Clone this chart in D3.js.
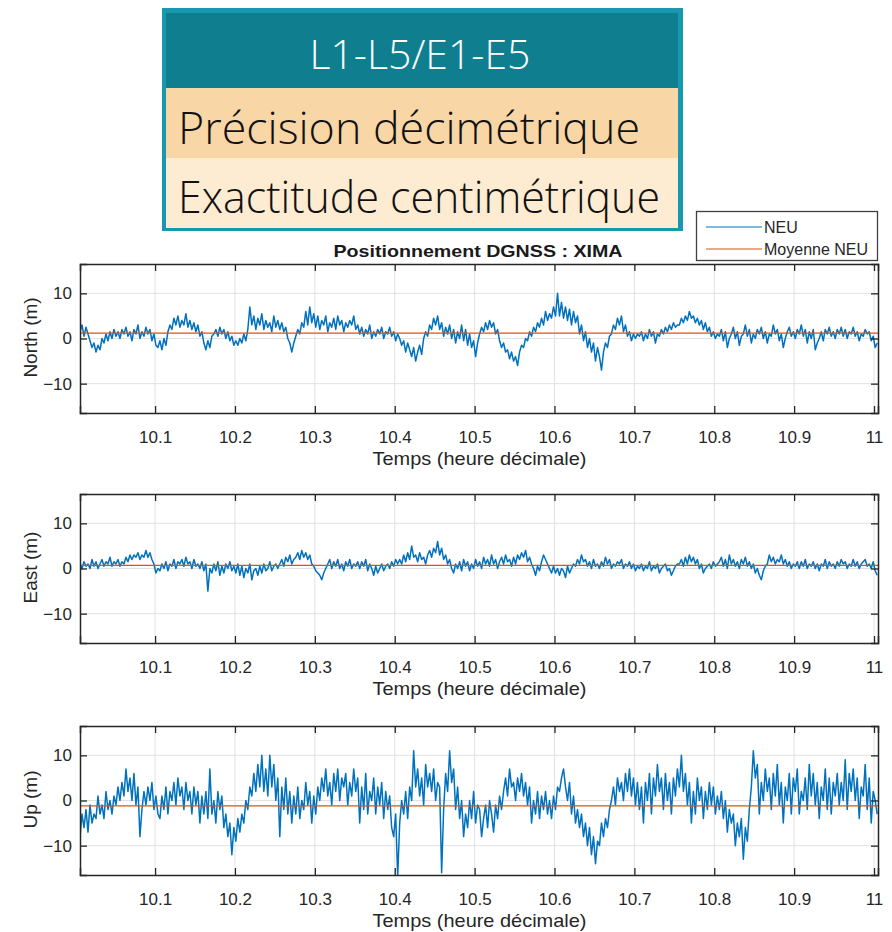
<!DOCTYPE html>
<html><head><meta charset="utf-8">
<script src="https://cdn.jsdelivr.net/npm/d3@7"></script>
<style>
body{margin:0;background:#fff;}
svg{display:block;}
</style></head>
<body>
<svg id="c" width="892" height="932"></svg>
<script>
// ---- data ----
const headerLines = ["L1-L5/E1-E5", "Précision décimétrique", "Exactitude centimétrique"];
const chartTitle = "Positionnement DGNSS : XIMA";
const legendLabels = ["NEU", "Moyenne NEU"];
const xTicks = [10.1, 10.2, 10.3, 10.4, 10.5, 10.6, 10.7, 10.8, 10.9, 11];
const yTicks = [-10, 0, 10];
const timeRange = [10.006, 11.004];
const panelNames = ["North (m)", "East (m)", "Up (m)"];
const xLabel = "Temps (heure décimale)";

const northValues = [
1.5,3,0.5,2.5,1,-0.5,-2,-1,-3,-1.5,-2.5,0,-1,1,-0.5,1.5,0,2,0.5,1.5,
0,2,1,2.5,0.5,1.5,-0.5,2,1,3,0,1.5,0.5,2.5,1,2,-0.5,1,-1.5,-2,
-0.5,-2.5,0,-1.5,1.5,3,2,4.5,3,5,2.5,4,3,5.5,2.5,4,2,3.5,1.5,3,
0.5,1.5,-1,-2.5,-0.5,-2,0.5,1,2,0.5,2.5,1,2,0,1.5,-0.5,0.5,-1.5,-0.5,-1.5,
0,-1,1,-0.5,2,7,3,5,2,4.5,3,5.5,2,4,2.5,3.5,1.5,5,2.5,4,
2,3.5,1.5,2.5,0,-1,-3,-1,0.5,2,1,3.5,2.5,6,3,7,3.5,5.5,2.5,5,
2,4,3,5,1.5,3.5,2.5,4.5,2,5,3,4,1.5,3.5,2.5,4,3,5,2,3,
1,2.5,0.5,2,1,3,0,1.5,0.5,2,1,2.5,0,1.5,1,2.5,0.5,1.5,-0.5,1,
0,-1.5,-0.5,-3,-1,-2.5,-4,-2,-5,-3,-1.5,-3.5,0,1.5,0.5,3,2,4.5,3,5,
2,3.5,0.5,2.5,1,3,0,2,-1,1.5,0,3,-0.5,2,-1.5,1,-2,-0.5,-4,-1,
1,2.5,1.5,3.5,2,4,2.5,3.5,1,2,-0.5,-2,-1,-3,-2.5,-4.5,-3,-5,-4,-6,
-3,-1.5,-2,0,-0.5,1.5,0.5,2.5,1.5,3.5,2.5,4.5,3,6,4,5.5,4.5,7,5,10,
5,8,4.5,7,4,6.5,3,6,3.5,5,1,3,-0.5,1.5,-2,0,-3,-1,-5,-2,
-4,-7,-3,-1,-2,0.5,1,3,2,4.5,3,5,1.5,3,0.5,1.5,-0.5,1,0,1,
0.5,1.5,-0.5,1,0,2,0.5,1.5,-1,1,0.5,2,1,2.5,1.5,3,2,3.5,2.5,3,
3,4.5,3.5,5,4,6,4.5,5,3.5,4.5,3,4,2,3.5,1.5,2.5,0.5,1.5,0,1,
0.5,2,-0.5,1.5,-2,0,1,2.5,0,1.5,-1.5,0.5,1,3,0.5,2,-1,1,0,2,
1,2.5,0,1.5,-1,1,0.5,3,1,2,-0.5,1,-2,0,1.5,2.5,0.5,1.5,0,2,
1,3,0.5,2,-1,1.5,0,2,-2.5,-1,0,1.5,-0.5,2,1,2.5,0.5,1.5,0,2,
1,2.5,0.5,2,0,1.5,1,2.5,0.5,1.5,-0.5,1,0.5,2,1,1.5,-0.5,0.5,-2,-1];

const eastValues = [
1,0,1.5,0.5,1,0,2,0.5,1.5,0,1,2,0.5,1.5,1,2.5,0.5,1.5,1,2,
0.5,1.5,1,2.5,1.5,3,2,3,2.5,3.5,2,3,2.5,4,2.5,3.5,2,1,-1,0,
-0.5,1,0,1.5,-0.5,1,0.5,2,0,1.5,1,2,0.5,2.5,1,1.5,0,2,0.5,1,
0,1.5,-0.5,1,-5,0,-1,1,-0.5,1.5,-1.5,0.5,-1,1,0,1.5,-0.5,0.5,-1,1,
-1.5,0.5,-2,0,-1,1,-2.5,-0.5,0,-1.5,0.5,-1,1,-0.5,0,1.5,-0.5,0.5,1,0,
1,2,0.5,2.5,1.5,3,1,2,2.5,3.5,2,4,2.5,3.5,2,3,1,0.5,-0.5,-1,
-1.5,-2.5,-1,0,1,2,0,1.5,0.5,2,0,1,-0.5,1.5,0.5,2,0,1,0.5,1.5,
0,1.5,0.5,2,-0.5,1,0,-1.5,0.5,-1,0,1,-0.5,0.5,1,0,1.5,0.5,2,1,
2,1,3,1.5,3.5,2,5,2.5,3,1.5,3.5,2,2.5,1,3,4,2.5,4.5,3.5,6,
3,4.5,2,3,1,2,0,-1,1,0,1.5,-0.5,2,0.5,1.5,-0.5,1,0,2,0.5,
1.5,0,2.5,1,2,0.5,3,1,2,0,1.5,2.5,1,3,1.5,2,0.5,2.5,1,3,
2,3.5,2.5,4,1.5,2.5,1,0,-1.5,0.5,-0.5,1.5,3,2,1,0,-1,0.5,-1,0,
-1.5,0,-0.5,-2,0.5,-1,0,1,0.5,2,1,3,1.5,2,0.5,1.5,0,2,0.5,1,
0,1.5,0.5,2.5,1,2,0,1,0.5,1.5,1,2,0,1,0.5,1.5,0,1,-0.5,0.5,
0,1,-0.5,0.5,0,1.5,-0.5,0.5,0,1,-1,0,0.5,1,-0.5,0,-1.5,-0.5,0.5,1,
1,2,0.5,2.5,1,3,1.5,2.5,1,2,0,1,-1,0,0.5,1,0,1.5,0.5,1,
1.5,2.5,0.5,2,0,3,1,2,0.5,1.5,0,2,1,2.5,0.5,1.5,0,1,-1,0,
-1.5,-2.5,-0.5,0.5,1,3,1.5,2.5,1,2,1.5,3,1,2,0.5,1.5,0,1,0.5,1.5,
0,1.5,0.5,2,0,1,0.5,1.5,0,1,-0.5,1,0.5,2,0,1.5,0.5,1,0,1.5,
0.5,2,1,1.5,0,1,0.5,2,0.5,1.5,0,1,1.5,2,0.5,1,0,1.5,-0.5,-1.5];

const upValues = [
-8,-3,-6,-2,-7,-1,-5,-3,-4,1,-3,-1,-4,2,-2,0,-3,1,-1,3,
0,4,1,7,2,5,0,6,-1,3,-8,-2,2,-1,3,0,4,-2,1,-3,
-4,1,-2,3,-3,2,0,4,-1,5,1,3,-2,4,0,2,-3,3,-1,2,
-5,1,-3,2,-4,7,-3,0,-5,2,-2,1,-6,-3,-8,-5,-12,-6,-9,-4,
-7,-3,-5,0,-2,3,1,6,2,8,3,10,2,7,1,10,3,8,0,5,
-8,3,-2,5,-3,2,-5,1,-3,3,-4,0,-2,4,-1,2,-5,1,-3,3,
0,5,2,7,1,4,-1,6,2,7,0,5,3,6,-1,4,1,7,2,5,
-5,3,-2,6,-3,2,0,5,-3,3,-1,4,-4,2,-2,1,-6,-8,-3,-17,
-5,0,-3,2,-4,3,0,11,3,7,1,5,-1,8,3,6,2,7,0,4,
3,-16,-2,6,2,11,4,7,-2,3,-4,0,-8,-3,-6,0,-4,2,-5,-1,
-2,-8,-4,-1,-6,0,-3,-7,-1,-4,1,-2,2,5,1,7,3,4,0,5,
2,6,1,4,-1,3,-5,0,-3,2,-4,1,-2,2,-3,0,-4,1,-2,3,
2,5,7,3,0,4,-3,1,-5,-2,-6,-3,-8,-5,-10,-6,-12,-8,-14,-9,
-10,-5,-8,-4,-6,-2,0,3,-1,5,2,4,0,6,2,7,1,5,-1,4,
-2,3,-5,4,0,6,-3,5,1,8,2,5,-2,6,0,4,-3,5,1,7,
3,10,2,6,-1,4,-5,2,-3,5,0,3,-4,2,-2,4,-1,3,-3,1,
-2,2,-4,0,-7,-2,-5,-3,-10,-5,-8,-4,-13,-6,-9,-2,3,11,5,8,
-3,4,0,7,2,5,-2,6,1,8,-1,4,-5,3,0,6,-3,5,2,7,
-3,2,0,5,-2,8,1,6,-1,4,-4,3,0,7,-2,5,-3,4,1,6,
-1,4,0,9,-2,6,2,7,0,5,-4,3,1,8,-2,5,-5,2,0,-3];

const meanValues = [1.2, 0.7, -1.2];

// ---- layout ----
const svg = d3.select("#c");
const plotLeft = 80, plotRight = 878;
const panelTops = [264, 494, 726];
const panelH = 149;
const blue = "#0072BD", orange = "#D95319";
const axFont = "'Liberation Sans', Arial, sans-serif";
const axColor = "#262626";

const x = d3.scaleLinear().domain([10.006, 11.005]).range([plotLeft, plotRight]);
const seriesList = [northValues, eastValues, upValues];

seriesList.forEach((vals, p) => {
  const top = panelTops[p];
  const y = d3.scaleLinear().domain([-16.5, 16.5]).range([top + panelH, top]);
  const g = svg.append("g");
  g.selectAll(".gx").data(xTicks).join("line")
    .attr("x1", d => x(d)).attr("x2", d => x(d))
    .attr("y1", top).attr("y2", top + panelH)
    .attr("stroke", "#e2e2e2").attr("stroke-width", 1);
  g.selectAll(".gy").data(yTicks).join("line")
    .attr("x1", plotLeft).attr("x2", plotRight)
    .attr("y1", d => y(d)).attr("y2", d => y(d))
    .attr("stroke", "#e2e2e2").attr("stroke-width", 1);

  const n = vals.length;
  const tAt = i => timeRange[0] + (timeRange[1] - timeRange[0]) * i / (n - 1);
  const clipId = "clip" + p;
  svg.append("clipPath").attr("id", clipId).append("rect")
    .attr("x", plotLeft).attr("y", top).attr("width", plotRight - plotLeft).attr("height", panelH);
  const line = d3.line().x((d, i) => x(tAt(i))).y(d => y(d));
  g.append("path").datum(vals).attr("d", line)
    .attr("fill", "none").attr("stroke", blue).attr("stroke-width", 1.5)
    .attr("stroke-linejoin", "round")
    .attr("clip-path", `url(#${clipId})`);
  g.append("line").attr("x1", plotLeft).attr("x2", plotRight)
    .attr("y1", y(meanValues[p])).attr("y2", y(meanValues[p]))
    .attr("stroke", orange).attr("stroke-width", 1.3);

  const tickLen = 7;
  const axB = d3.axisBottom(x).tickValues(xTicks).tickSize(-tickLen).tickPadding(18).tickFormat(d3.format("~g"));
  const axT = d3.axisTop(x).tickValues(xTicks).tickSize(-tickLen).tickFormat("");
  const axL = d3.axisLeft(y).tickValues(yTicks).tickSize(-tickLen).tickPadding(8);
  const axR = d3.axisRight(y).tickValues(yTicks).tickSize(-tickLen).tickFormat("");
  [[axB, `translate(0,${top + panelH})`], [axT, `translate(0,${top})`],
   [axL, `translate(${plotLeft},0)`], [axR, `translate(${plotRight},0)`]].forEach(([ax, tr]) => {
    const a = g.append("g").attr("transform", tr).call(ax);
    a.select(".domain").attr("stroke", axColor).attr("stroke-width", 1.5);
    a.selectAll(".tick line").attr("stroke", axColor).attr("stroke-width", 1.3);
    a.selectAll("text").attr("font-family", axFont).attr("font-size", 17).attr("fill", axColor);
  });

  g.append("text").attr("x", 479.5).attr("y", top + panelH + 52)
    .attr("text-anchor", "middle").attr("font-family", axFont).attr("font-size", 19)
    .attr("fill", axColor).attr("textLength", 214).attr("lengthAdjust", "spacingAndGlyphs")
    .text(xLabel);
  g.append("text").attr("transform", `translate(37,${top + panelH / 2 - 1}) rotate(-90)`)
    .attr("text-anchor", "middle").attr("font-family", axFont).attr("font-size", 19)
    .attr("fill", axColor).text(panelNames[p]);
});

// title
svg.append("text").attr("x", 478).attr("y", 257).attr("text-anchor", "middle")
  .attr("font-family", axFont).attr("font-weight", "bold").attr("font-size", 17)
  .attr("fill", "#1a1a1a").attr("textLength", 289).attr("lengthAdjust", "spacingAndGlyphs")
  .text(chartTitle);

// legend
const lg = svg.append("g");
lg.append("rect").attr("x", 696.5).attr("y", 211.5).attr("width", 181).attr("height", 49)
  .attr("fill", "#fff").attr("stroke", "#404040").attr("stroke-width", 1.3);
[blue, orange].forEach((c, i) => {
  const yy = 227 + i * 22;
  lg.append("line").attr("x1", 706).attr("x2", 762).attr("y1", yy).attr("y2", yy)
    .attr("stroke", c).attr("stroke-width", 1.2);
  lg.append("text").attr("x", 764).attr("y", yy + 6).attr("font-family", axFont)
    .attr("font-size", 16).attr("fill", axColor).text(legendLabels[i]);
});

// header box
const hb = svg.append("g");
const bx = 162, by = 8, bw = 521, bh = 223;
hb.append("rect").attr("x", bx).attr("y", by).attr("width", bw).attr("height", bh).attr("fill", "#1798ae");
hb.append("rect").attr("x", bx + 4).attr("y", 13).attr("width", bw - 9).attr("height", 75).attr("fill", "#0f7f8f");
hb.append("rect").attr("x", bx + 4).attr("y", 88).attr("width", bw - 9).attr("height", 70).attr("fill", "#f9d6a6");
hb.append("rect").attr("x", bx + 4).attr("y", 158).attr("width", bw - 9).attr("height", 70).attr("fill", "#fdebd2");
const hf = "'Open Sans', 'Noto Sans', sans-serif";
hb.append("text").attr("x", 420).attr("y", 69).attr("text-anchor", "middle")
  .attr("font-family", hf).attr("font-weight", 300).attr("font-size", 40).attr("fill", "#fff")
  .attr("textLength", 221).attr("lengthAdjust", "spacingAndGlyphs").text(headerLines[0]);
hb.append("text").attr("x", 178).attr("y", 144)
  .attr("font-family", hf).attr("font-weight", 300).attr("font-size", 44).attr("fill", "#111")
  .attr("textLength", 462).attr("lengthAdjust", "spacingAndGlyphs").text(headerLines[1]);
hb.append("text").attr("x", 178).attr("y", 213)
  .attr("font-family", hf).attr("font-weight", 300).attr("font-size", 44).attr("fill", "#111")
  .attr("textLength", 482).attr("lengthAdjust", "spacingAndGlyphs").text(headerLines[2]);
</script>
</body></html>
